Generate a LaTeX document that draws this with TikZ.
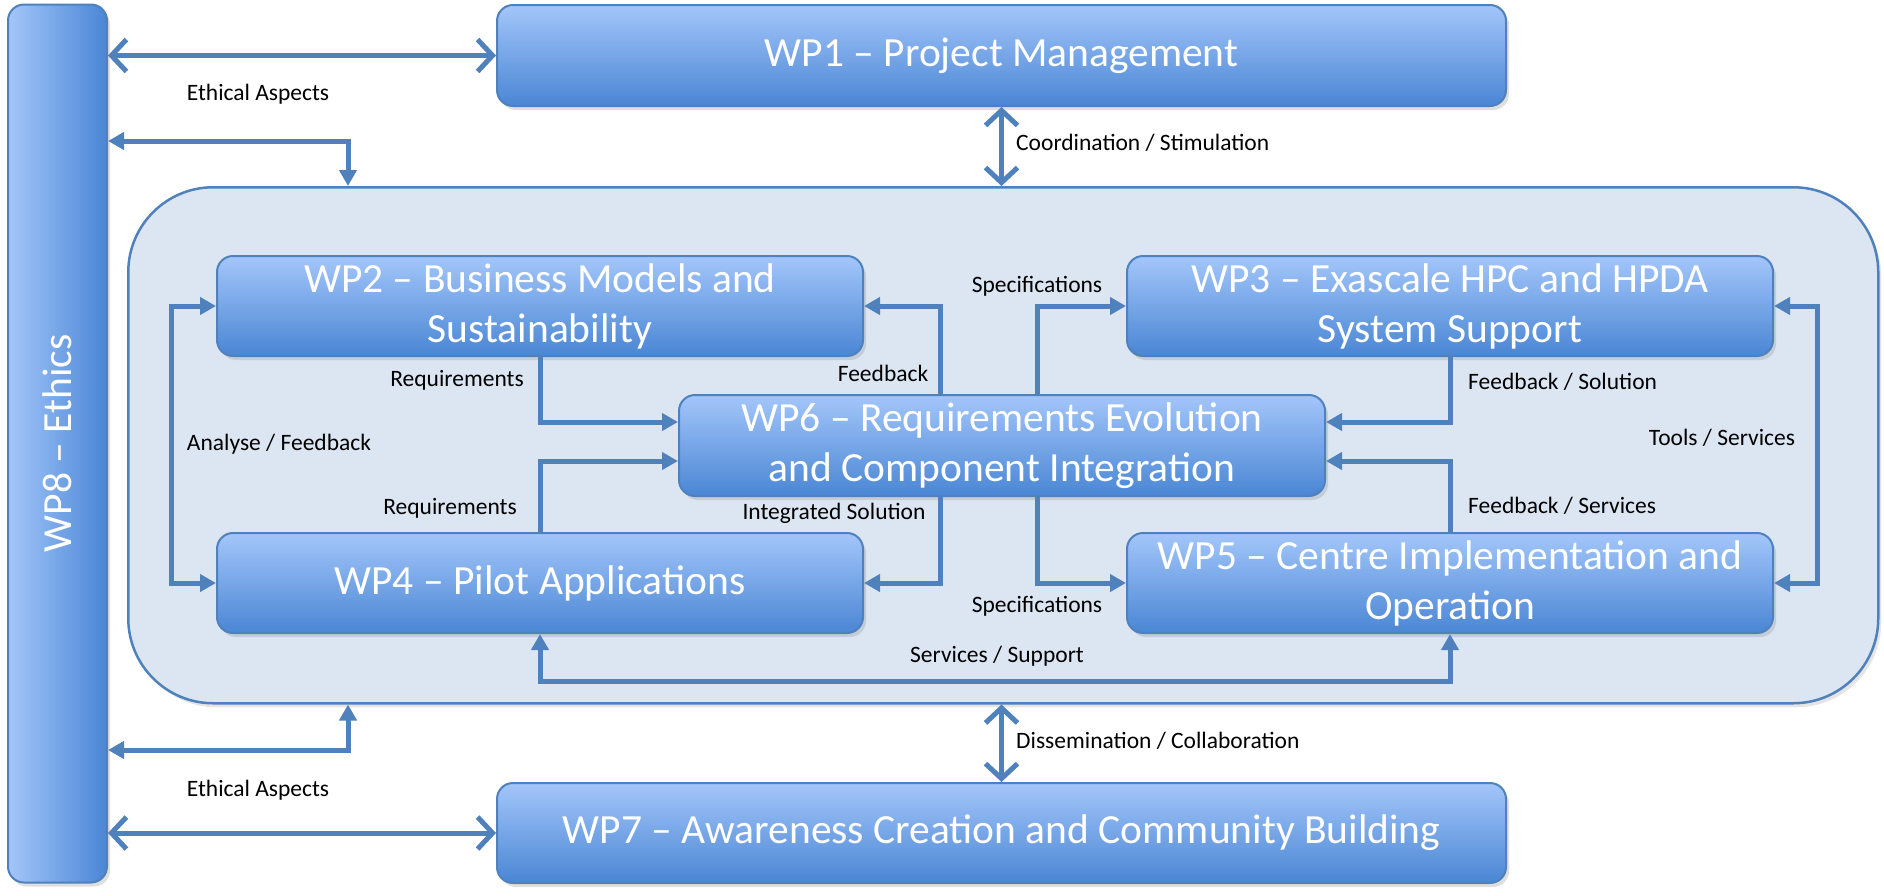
\documentclass[tikz,border=0pt]{standalone}
\usepackage{fontspec}
\setmainfont{Carlito}
\usetikzlibrary{arrows.meta,shadows}
\definecolor{boxtop}{RGB}{163,198,250}
\definecolor{boxbot}{RGB}{74,134,212}
\definecolor{boxline}{RGB}{79,129,189}
\definecolor{contfill}{RGB}{220,230,242}
\definecolor{arr}{RGB}{79,129,189}
\begin{document}
\begin{tikzpicture}[x=1pt,y=-1pt,
 wpbox/.style={rectangle, rounded corners=16pt, draw=boxline, line width=2pt,
   top color=boxtop, bottom color=boxbot, text=white,
   font=\fontsize{41.5}{50}\selectfont, align=center, inner sep=0pt, anchor=north west,
   drop shadow={shadow xshift=3pt,shadow yshift=-4pt,opacity=0.25}},
 lbl/.style={font=\fontsize{23.5}{28}\selectfont, text=black, inner sep=0pt},
 conn/.style={draw=arr, line width=5pt},
 bar/.style={conn, {Straight Barb[length=15pt,width=32pt]}-{Straight Barb[length=15pt,width=32pt]}},
 tri/.style={conn, -{Triangle[length=16pt,width=17pt]}},
 tritri/.style={conn, {Triangle[length=16pt,width=17pt]}-{Triangle[length=16pt,width=17pt]}},
]
\useasboundingbox[fill=white] (0,0) rectangle (1884,895);

% container
\node[anchor=north west, minimum width=1750pt, minimum height=516pt, inner sep=0pt,
  rounded corners=85pt, fill=contfill, draw=boxline, line width=2.5pt,
  drop shadow={shadow xshift=3pt,shadow yshift=-4pt,opacity=0.2}] (core) at (127,186) {};

% WP8
\node[rectangle, rounded corners=16pt, draw=boxline, line width=2pt,
   left color=boxtop, right color=boxbot, text=white, rotate=90,
   font=\fontsize{41.5}{50}\selectfont, inner sep=0pt,
   minimum width=878pt, minimum height=99pt,
   drop shadow={shadow xshift=3pt,shadow yshift=-4pt,opacity=0.25}] (wp8) at (57.5,443.5) {WP8 – Ethics};

\node[wpbox, minimum width=1009pt, minimum height=101pt] (wp1) at (496,4) {WP1 – Project Management};
\node[wpbox, minimum width=646pt, minimum height=100pt] (wp2) at (216,255) {WP2 – Business Models and\\Sustainability};
\node[wpbox, minimum width=646pt, minimum height=100pt] (wp3) at (1126,255) {WP3 – Exascale HPC and HPDA\\System Support};
\node[wpbox, minimum width=646pt, minimum height=101pt] (wp6) at (678,394) {WP6 – Requirements Evolution\\and Component Integration};
\node[wpbox, minimum width=646pt, minimum height=100pt] (wp4) at (216,532) {WP4 – Pilot Applications};
\node[wpbox, minimum width=646pt, minimum height=100pt] (wp5) at (1126,532) {WP5 – Centre Implementation and\\Operation};
\node[wpbox, minimum width=1009pt, minimum height=100pt] (wp7) at (496,782) {WP7 – Awareness Creation and Community Building};

% helper coordinates
\coordinate (e1) at (348,141);
\coordinate (e2) at (348,750);
\coordinate (r1) at (0,422);
\coordinate (r2) at (0,461);
\coordinate (c1) at (940,0);
\coordinate (c2) at (1037,0);
\coordinate (ta) at (1817,0);
\coordinate (aa) at (171,0);
\coordinate (ss) at (0,681);

% outer connectors
\draw[bar] (wp8.south |- wp1.west) -- (wp1.west);
\draw[bar] (wp8.south |- wp7.west) -- (wp7.west);
\draw[tritri] (wp8.south |- e1) -| (core.north -| e1);
\draw[tritri] (wp8.south |- e2) -| (core.south -| e2);
\draw[bar] (wp1.south) -- (wp1.south |- core.north);
\draw[bar] (wp7.north |- core.south) -- (wp7.north);

% inner connectors
\draw[tri] (wp2.south) |- (wp6.west |- r1);
\draw[tri] (wp4.north) |- (wp6.west |- r2);
\draw[tri] (wp6.north -| c1) |- (wp2.east);
\draw[tri] (wp6.south -| c1) |- (wp4.east);
\draw[tri] (wp6.north -| c2) |- (wp3.west);
\draw[tri] (wp6.south -| c2) |- (wp5.west);
\draw[tri] (wp3.south) |- (wp6.east |- r1);
\draw[tri] (wp5.north) |- (wp6.east |- r2);
\draw[tritri] (wp3.east) -- (wp3.east -| ta) -- (wp5.east -| ta) -- (wp5.east);
\draw[tritri] (wp2.west) -- (wp2.west -| aa) -- (wp4.west -| aa) -- (wp4.west);
\draw[tritri] (wp4.south) -- (wp4.south |- ss) -- (wp5.south |- ss) -- (wp5.south);

% labels
\node[lbl] (l1) at (258,94) {Ethical Aspects};
\node[lbl] (l2) at (258,790) {Ethical Aspects};
\node[lbl, anchor=west] (l3) at (1016,143) {Coordination / Stimulation};
\node[lbl, anchor=west] (l4) at (1016,741) {Dissemination / Collaboration};
\node[lbl] (l5) at (457,380) {Requirements};
\node[lbl] (l6) at (450,508) {Requirements};
\node[lbl] (l7) at (279,444) {Analyse / Feedback};
\node[lbl] (l8) at (883,373) {Feedback};
\node[lbl] (l9) at (834,513) {Integrated Solution};
\node[lbl] (l10) at (1037,286) {Specifications};
\node[lbl] (l11) at (1037,606) {Specifications};
\node[lbl, anchor=west] (l12) at (1468,382) {Feedback / Solution};
\node[lbl, anchor=west] (l13) at (1468,506) {Feedback / Services};
\node[lbl] (l14) at (1722,438) {Tools / Services};
\node[lbl] (l15) at (997,656) {Services / Support};
\end{tikzpicture}
\end{document}
